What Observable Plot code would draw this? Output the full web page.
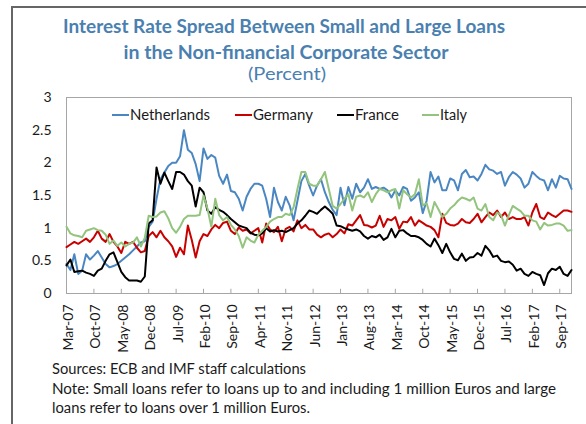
<!DOCTYPE html>
<html>
<head>
<meta charset="utf-8">
<script src="https://cdn.jsdelivr.net/npm/d3@7"></script>
<script src="https://cdn.jsdelivr.net/npm/@observablehq/plot@0.6"></script>
<style>
html, body { margin: 0; padding: 0; background: #ffffff; }
#wrap { position: relative; width: 586px; height: 424px; overflow: hidden; font-family: Lato, "Open Sans", sans-serif; }
#border { position: absolute; left: 11px; top: 6px; width: 600px; height: 440px; border-left: 2px solid #666666; border-top: 2px solid #666666; box-sizing: border-box; }
#chart { position: absolute; left: 0; top: 90px; }
#overlay { position: absolute; left: 0; top: 0; pointer-events: none; }
</style>
</head>
<body>
<div id="wrap">
  <div id="border"></div>
  <div id="chart"></div>
  <svg id="overlay" width="586" height="424"></svg>
</div>
<script>
// ---- Data (monthly, Mar-07 to Dec-17) ----
const seriesNames = ["Netherlands", "Germany", "France", "Italy"];
const tickLabels = ["Mar-07","Oct-07","May-08","Dec-08","Jul-09","Feb-10","Sep-10","Apr-11","Nov-11","Jun-12","Jan-13","Aug-13","Mar-14","Oct-14","May-15","Dec-15","Jul-16","Feb-17","Sep-17"];
const yTicks = [0, 0.5, 1, 1.5, 2, 2.5, 3];

const netherlands = [
  0.45,0.36,0.60,0.30,0.35,0.60,0.52,0.58,0.65,0.55,0.45,0.40,0.42,0.45,0.50,0.55,0.60,0.66,0.72,0.78,0.80,
  1.02,1.10,1.45,1.75,1.85,1.95,2.00,
  2.00,2.10,2.50,2.20,2.15,1.98,1.72,
  2.22,2.06,2.12,2.08,1.80,1.68,1.82,
  1.57,1.55,1.45,1.27,1.48,1.60,1.68,
  1.68,1.65,1.45,1.17,1.62,1.40,1.27,
  1.48,1.35,1.12,1.42,1.72,1.83,1.65,
  1.50,1.65,1.75,1.55,1.40,1.28,1.20,
  1.62,1.35,1.63,1.45,1.68,1.55,1.62,
  1.75,1.60,1.63,1.60,1.62,1.58,1.47,
  1.58,1.50,1.63,1.60,1.42,1.47,1.55,
  1.23,1.42,1.86,1.70,1.79,1.58,1.58,
  1.76,1.73,1.58,1.83,1.89,1.78,1.79,
  1.73,1.83,1.97,1.90,1.88,1.83,1.86,
  1.65,1.78,1.86,1.82,1.76,1.62,1.68,
  1.86,1.80,1.75,1.73,1.58,1.75,1.62,
  1.80,1.76,1.75,1.60
];
const germany = [
  0.71,0.75,0.79,0.76,0.80,0.84,0.79,
  0.86,0.96,0.84,0.79,0.91,0.79,0.72,
  0.62,0.79,0.76,0.79,0.70,0.63,0.65,
  0.88,0.94,0.86,0.96,0.86,0.80,0.72,
  0.56,0.70,0.60,1.04,0.82,0.55,0.80,
  0.91,0.88,0.98,1.05,1.00,1.08,1.10,
  0.96,0.91,1.01,0.96,0.98,0.92,0.96,
  1.00,0.78,1.07,0.98,0.94,1.02,0.80,
  0.99,1.02,0.95,1.12,1.00,1.05,0.98,
  0.98,0.90,0.86,0.90,0.92,0.86,0.91,
  0.98,0.92,1.06,1.04,1.12,1.20,1.05,
  1.04,1.01,1.04,1.19,1.02,1.14,1.12,
  1.17,0.99,1.10,1.09,1.17,1.04,1.12,
  1.08,1.04,1.02,0.97,0.86,1.22,1.08,
  1.05,1.04,1.07,1.14,1.09,1.08,1.14,
  1.22,1.09,1.17,1.24,1.20,1.27,1.17,
  1.24,1.14,1.17,1.14,1.14,1.17,1.04,
  1.24,1.37,1.17,1.14,1.24,1.20,1.17,
  1.22,1.27,1.27,1.25
];
const france = [
  0.43,0.52,0.33,0.34,0.35,0.32,0.30,
  0.27,0.35,0.38,0.50,0.60,0.63,0.48,
  0.33,0.25,0.20,0.20,0.20,0.18,0.26,
  1.07,1.12,1.93,1.68,1.85,1.72,1.60,
  1.86,1.86,1.82,1.72,1.65,1.33,1.62,
  1.55,1.27,1.22,1.32,1.28,1.25,1.20,
  1.14,1.09,1.04,1.02,1.00,0.93,0.90,
  0.89,0.92,1.00,0.95,0.97,0.95,0.96,
  0.94,0.97,1.00,1.07,1.12,1.19,1.27,
  1.25,1.22,1.28,1.33,1.28,1.22,1.04,
  1.03,1.00,0.98,0.96,0.98,0.95,0.88,
  0.84,0.88,0.86,0.90,0.82,0.86,0.99,
  0.86,0.96,0.97,0.92,0.88,0.88,0.86,
  0.82,0.76,0.72,0.84,0.74,0.62,0.76,
  0.63,0.53,0.51,0.61,0.50,0.55,0.56,
  0.62,0.58,0.73,0.66,0.56,0.58,0.50,
  0.48,0.49,0.44,0.35,0.38,0.30,0.27,
  0.33,0.30,0.28,0.13,0.31,0.38,0.36,
  0.41,0.30,0.27,0.36
];
const italy = [
  1.02,0.92,0.89,0.88,0.86,0.96,0.98,
  1.00,0.97,0.96,0.90,0.76,0.81,0.73,
  0.78,0.72,0.76,0.78,0.86,0.72,0.85,
  1.19,1.17,1.18,1.24,1.26,1.15,1.00,
  0.93,1.02,1.14,1.19,1.19,1.19,1.20,
  1.50,1.30,1.02,1.45,1.20,1.12,1.17,
  1.05,0.98,0.88,0.70,0.86,0.81,0.78,
  0.90,0.96,1.02,1.10,1.14,1.17,1.17,
  1.22,1.20,1.32,1.60,1.86,1.86,1.68,
  1.65,1.65,1.75,1.86,1.60,1.34,1.30,
  1.37,1.45,1.52,1.27,1.48,1.50,1.47,
  1.55,1.40,1.52,1.60,1.58,1.55,1.58,
  1.60,1.30,1.58,1.52,1.47,1.52,1.75,
  1.35,1.38,1.17,1.40,1.29,1.17,1.22,
  1.30,1.35,1.42,1.47,1.45,1.42,1.47,
  1.30,1.27,1.37,1.17,1.12,1.24,1.20,
  1.04,1.20,1.34,1.30,1.26,1.19,1.19,
  1.12,1.10,0.98,1.08,1.04,1.05,1.07,
  1.07,1.04,0.96,0.97
];

const colors = {Netherlands: "#4a87c2", Germany: "#c80000", France: "#000000", Italy: "#93c47d"};
const seriesData = {Netherlands: netherlands, Germany: germany, France: france, Italy: italy};

const tickIdx = tickLabels.map((_, k) => k * 7);
const nMonths = netherlands.length;

const chart = Plot.plot({
  width: 586,
  height: 260,
  marginTop: 7,
  marginBottom: 57,
  marginLeft: 66,
  marginRight: 15,
  style: {fontFamily: "Lato, 'Open Sans', sans-serif", fontSize: "14px", color: "#1a1a1a", background: "transparent", overflow: "visible"},
  x: {domain: [0, nMonths - 1], axis: null},
  y: {domain: [0, 3], axis: null},
  marks: [
    Plot.frame({stroke: "#a6a6a6", strokeWidth: 1}),
    Plot.ruleX(tickIdx, {x: d => d, y1: 0, y2: 0.065, stroke: "#a6a6a6"}),
    Plot.axisY({ticks: yTicks, tickSize: 0, tickPadding: 15, tickFormat: d => String(d), fontSize: 14, label: null}),
    Plot.axisX({ticks: tickIdx, tickSize: 0, tickPadding: 11, tickRotate: -90, dx: 2, tickFormat: d => tickLabels[d / 7], fontSize: 14, label: null}),
    ...seriesNames.map(name => Plot.lineY(seriesData[name], {x: (d, i) => i, y: d => d, stroke: colors[name], strokeWidth: 2, strokeLinejoin: "round"}))
  ]
});
document.getElementById("chart").appendChild(chart);

// ---- Title, legend, notes (overlay text) ----
const ov = d3.select("#overlay");
const blue = "#4a80b0";
function txt(s, x, y, opts) {
  const t = ov.append("text").attr("x", x).attr("y", y).text(s)
    .attr("font-family", "Lato, 'Open Sans', sans-serif")
    .attr("font-size", opts.size).attr("fill", opts.fill || "#1a1a1a")
    .attr("font-weight", opts.weight || "normal")
    .attr("text-anchor", opts.anchor || "start");
  if (opts.len) t.attr("textLength", opts.len).attr("lengthAdjust", "spacingAndGlyphs");
  return t;
}
txt("Interest Rate Spread Between Small and Large Loans", 284, 33, {size: 19, weight: "bold", fill: blue, anchor: "middle", len: 442});
txt("in the Non-financial Corporate Sector", 286, 58.5, {size: 19, weight: "bold", fill: blue, anchor: "middle", len: 325});
txt("(Percent)", 287, 80, {size: 17, fill: blue, anchor: "middle", len: 78});

const legendItems = [
  {name: "Netherlands", x: 112, len: 80},
  {name: "Germany", x: 235, len: 60},
  {name: "France", x: 337, len: 44},
  {name: "Italy", x: 422, len: 27}
];
legendItems.forEach(it => {
  ov.append("line").attr("x1", it.x).attr("x2", it.x + 17).attr("y1", 115).attr("y2", 115)
    .attr("stroke", colors[it.name]).attr("stroke-width", 2);
  txt(it.name, it.x + 18, 120, {size: 14.5, len: it.len});
});

txt("Sources: ECB and IMF staff calculations", 52, 374, {size: 14.5, len: 254});
txt("Note: Small loans refer to loans up to and including 1 million Euros and large", 52, 393.5, {size: 14.5, len: 504});
txt("loans refer to loans over 1 million Euros.", 52, 413, {size: 14.5, len: 258});
</script>
</body>
</html>
